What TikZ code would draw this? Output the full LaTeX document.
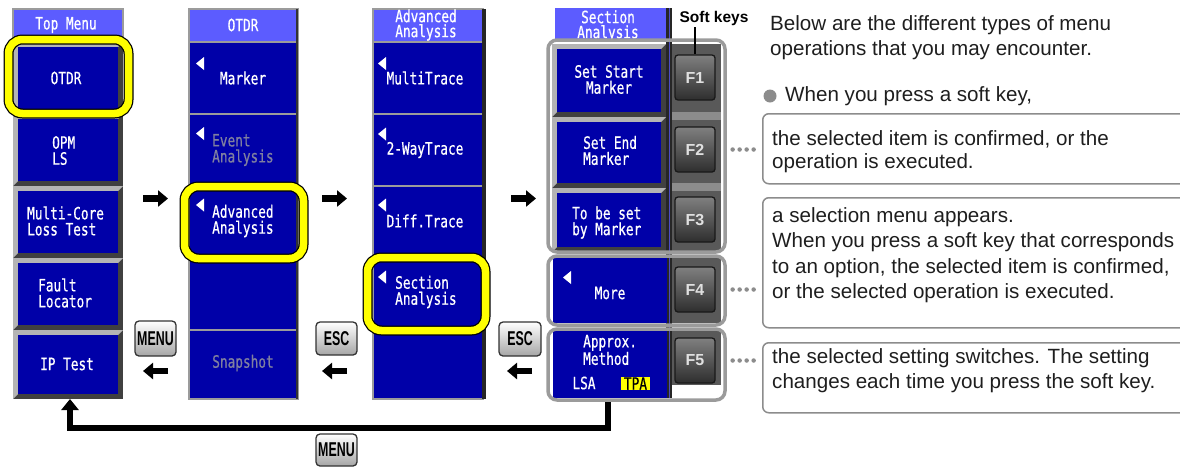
\documentclass[tikz,border=0pt]{standalone}
\usepackage{fontspec}
\setmainfont{Liberation Sans}
\newfontfamily\lcdfont[FakeStretch=0.75,FakeBold=0.6]{DejaVu Sans Mono}
\newfontfamily\keyfont[FakeStretch=0.62]{Liberation Sans}
\usetikzlibrary{arrows.meta,calc}

\definecolor{lcdblue}{RGB}{0,0,168}
\definecolor{titleblue}{RGB}{92,92,255}
\definecolor{bevlight}{RGB}{180,180,180}
\definecolor{bevdark}{RGB}{64,64,64}
\definecolor{greytxt}{RGB}{128,128,160}
\definecolor{grpgrey}{RGB}{155,155,155}
\definecolor{boxgrey}{RGB}{140,140,140}
\definecolor{hiyellow}{RGB}{255,255,0}
\definecolor{txtdark}{RGB}{30,30,30}

\newcommand{\bevbtn}[5]{%
 \fill[bevdark] (#1,#2) rectangle (#3,#4);
 \fill[bevlight] (#1,#2) -- (#3,#2) -- ({#3-#5},{#2+#5}) -- ({#1+#5},{#2+#5}) -- ({#1+#5},{#4-#5}) -- (#1,#4) -- cycle;
 \fill[lcdblue] ({#1+#5},{#2+#5}) rectangle ({#3-#5},{#4-#5});}
\newcommand{\lcdtri}[2]{\fill[white] (#1,#2) -- ({#1+8},{#2-6.5}) -- ({#1+8},{#2+6.5}) -- cycle;}
\newcommand{\hilite}[4]{%
 \draw[black,line width=10,rounded corners=14] (#1,#2) rectangle (#3,#4);
 \draw[hiyellow,line width=7.5,rounded corners=14] (#1,#2) rectangle (#3,#4);}

\tikzset{
 lcd/.style={font=\lcdfont\fontsize{17}{16}\selectfont, text=white, inner sep=0},
 lcdg/.style={lcd, text=greytxt},
 hwkey/.style={draw=black!80, line width=1.3, rounded corners=4, top color=white, bottom color=black!35,
   font=\keyfont\bfseries\fontsize{20}{20}\selectfont, inner sep=0},
 softkey/.style={draw=black!90, line width=1.3, rounded corners=3, top color=black!50, bottom color=black!82,
   font=\bfseries\fontsize{16}{16}\selectfont, text=black!12, minimum width=40, minimum height=45, inner sep=0},
 barrow/.style={line width=6.5, -{Triangle[length=10pt,width=16pt]}},
 rtext/.style={font=\fontsize{20.6}{25}\selectfont, text=txtdark, inner sep=0, anchor=base west},
 tbox/.style={draw=boxgrey, line width=1.5, rounded corners=6, inner sep=0, anchor=north west, minimum width=440},
 dotline/.style={draw=black!45, line width=4.5, line cap=round, dash pattern=on 0pt off 7pt},
 grp/.style={draw=grpgrey, line width=3.5, rounded corners=9},
}

\begin{document}
\begin{tikzpicture}[x=1pt,y=-1pt]
\useasboundingbox (0,0) rectangle (1180,467);
\clip (0,0) rectangle (1180,467);

% ---------------- Column 1: Top Menu
\fill[titleblue] (13,9) rectangle (123,42);
\draw[grpgrey,line width=1.5] (13,9) rectangle (123,42);
\bevbtn{13}{42}{123}{114}{5}
\bevbtn{13}{114}{123}{186}{5}
\bevbtn{13}{186}{123}{258}{5}
\bevbtn{13}{258}{123}{330}{5}
\bevbtn{13}{330}{123}{399}{5}
\node[lcd] (c1t) at (66,25) {Top Menu};
\node[lcd] (c1a) at (66,78) {OTDR};
\node[lcd,align=left,anchor=west] (c1b) at (52,150.5) {OPM\\LS};
\node[lcd,align=left,anchor=west] (c1c) at (27,221) {Multi-Core\\Loss Test};
\node[lcd,align=left,anchor=west] (c1d) at (38,293) {Fault\\Locator};
\node[lcd] (c1e) at (67,364) {IP Test};

% ---------------- Column 2: OTDR
\fill[titleblue] (189,9) rectangle (298,42);
\fill[lcdblue] (189,42) rectangle (298,399);
\draw[grpgrey,line width=2] (189,9) rectangle (298,399);
\foreach \yy in {42,114,186,258,330} \draw[grpgrey,line width=2] (189,\yy) -- (298,\yy);
\draw[black!80,line width=2.5] (297,9) -- (297,399);
\node[lcd] (c2t) at (243,25) {OTDR};
\lcdtri{196}{63.5}
\node[lcd] (c2a) at (243,78) {Marker};
\lcdtri{196}{133.5}
\node[lcdg,align=left,anchor=west] (c2b) at (212,150) {Event\\Analysis};
\lcdtri{196}{205}
\node[lcd,align=left,anchor=west] (c2c) at (212,221) {Advanced\\Analysis};
\node[lcdg] (c2e) at (243,363) {Snapshot};

% ---------------- Column 3: Advanced Analysis
\fill[titleblue] (373,9) rectangle (483,42);
\fill[lcdblue] (373,42) rectangle (483,399);
\draw[grpgrey,line width=2] (373,9) rectangle (483,399);
\foreach \yy in {42,114,186,258,330} \draw[grpgrey,line width=2] (373,\yy) -- (483,\yy);
\draw[black!85,line width=3.5] (484,9) -- (484,399);
\node[lcd,align=center,font=\lcdfont\fontsize{17}{15}\selectfont] (c3t) at (426,25) {Advanced\\Analysis};
\lcdtri{378}{63.5}
\node[lcd] (c3a) at (425,78) {MultiTrace};
\lcdtri{378}{134}
\node[lcd] (c3b) at (425,150) {2-WayTrace};
\lcdtri{378}{205}
\node[lcd] (c3c) at (425,221) {Diff.Trace};
\lcdtri{378}{277}
\node[lcd,align=left,anchor=west] (c3d) at (395,292) {Section\\Analysis};

% ---------------- Column 4: Section Analysis
\fill[titleblue] (555,8) rectangle (666,42);
\node[lcd,align=center,font=\lcdfont\fontsize{17}{15}\selectfont] (c4t) at (608,26) {Section\\Analysis};
\fill[black!85] (666,8) rectangle (672,398);
\fill[lcdblue!70!white] (668.5,8) rectangle (669.5,398);
\bevbtn{552}{44}{666}{117}{5}
\bevbtn{552}{117}{666}{188}{5}
\bevbtn{552}{188}{666}{252}{5}
\fill[lcdblue] (553,258) rectangle (667,323);
\fill[lcdblue] (553,330) rectangle (667,398);
\fill[black!65] (672,44) rectangle (721,251);
\fill[black!65] (672,258) rectangle (721,323);
\fill[black!65] (672,330) rectangle (721,385);
\foreach \yy in {112,183} \fill[black!45] (672,\yy) rectangle (721,{\yy+8});
\node[lcd,align=center] (c4a) at (609,79.5) {Set Start\\Marker};
\node[lcd,align=left,anchor=west] (c4b) at (583,150.5) {Set End\\Marker};
\node[lcd,align=left,anchor=west] (c4c) at (572,222.5) {To be set\\by Marker};
\lcdtri{563}{277.5}
\node[lcd] (c4d) at (610,293) {More};
\node[lcd,align=left,anchor=west] (c4e) at (583,350) {Approx.\\Method};
\node[lcd] (c4f) at (584,383) {LSA};
\node[lcd,fill=hiyellow,text=black,minimum width=29,minimum height=13] (c4g) at (635.5,383.5) {TPA};

\node[softkey] (F1) at (695,77.5) {F1};
\node[softkey] (F2) at (695,149.5) {F2};
\node[softkey] (F3) at (695,219.5) {F3};
\node[softkey] (F4) at (695,289.5) {F4};
\node[softkey] (F5) at (695,360.5) {F5};

% return path (drawn under the groups)
\coordinate (ret0) at (608,400);
\coordinate (retc) at (70,428);
\coordinate (ipbot) at (70,399);
\draw[line width=5.5,-{Triangle[length=11pt,width=17pt]}] (ret0) |- (retc) -- (ipbot);

\draw[grp] (548,40) rectangle (725,252);
\draw[grp] (548,256) rectangle (725,325);
\draw[grp] (548,329) rectangle (725,400);

\node[font=\bfseries\fontsize{15.5}{16}\selectfont,inner sep=0] (softlbl) at (714,18) {Soft keys};
\draw[line width=1.3] (F1.north |- 0,27) -- (F1.north);

% ---------------- Highlights
\hilite{8.5}{39.5}{128.5}{113.5}
\hilite{184.5}{186.5}{303.5}{258.5}
\hilite{367.5}{257.5}{485.5}{330.5}

% ---------------- Arrows and keys
\coordinate (ra1s) at (143,198.5); \coordinate (ra1e) at (168,198.5);
\coordinate (ra2s) at (322,198.5); \coordinate (ra2e) at (347,198.5);
\coordinate (ra3s) at (511,198.5); \coordinate (ra3e) at (536,198.5);
\draw[barrow] (ra1s) -- (ra1e);
\draw[barrow] (ra2s) -- (ra2e);
\draw[barrow] (ra3s) -- (ra3e);
\coordinate (la1s) at (168,371); \coordinate (la1e) at (143,371);
\coordinate (la2s) at (347,371); \coordinate (la2e) at (322,371);
\coordinate (la3s) at (532,371); \coordinate (la3e) at (507,371);
\draw[barrow] (la1s) -- (la1e);
\draw[barrow] (la2s) -- (la2e);
\draw[barrow] (la3s) -- (la3e);

\node[hwkey,minimum width=41,minimum height=35] (menu1) at (155.5,338.5) {MENU};
\node[hwkey,minimum width=41,minimum height=33] (esc1) at (336.5,338.5) {ESC};
\node[hwkey,minimum width=42,minimum height=34] (esc2) at (520,339) {ESC};
\node[hwkey,minimum width=41,minimum height=32] (menu2) at (336.5,450) {MENU};

% ---------------- Right-hand explanations
\node[rtext] (intro1) at (770,30) {Below are the different types of menu};
\node[rtext] (intro2) at (770,55) {operations that you may encounter.};
\node[circle,fill=black!45,minimum size=13,inner sep=0] (bullet) at (770,96) {};
\node[rtext] (when) at (785,101) {When you press a soft key,};

\node[tbox,minimum height=70] (box1) at (762,113) {};
\node[tbox,minimum height=130] (box2) at (762,197) {};
\node[tbox,minimum height=70] (box3) at (762,342) {};

\node[rtext] (b1a) at (772,145) {the selected item is confirmed, or the};
\node[rtext] (b1b) at (772,168) {operation is executed.};
\node[rtext] (b2a) at (772,222) {a selection menu appears.};
\node[rtext] (b2b) at (772,247) {When you press a soft key that corresponds};
\node[rtext] (b2c) at (772,273) {to an option, the selected item is confirmed,};
\node[rtext] (b2d) at (772,298) {or the selected operation is executed.};
\node[rtext] (b3a) at (772,363) {the selected setting switches. The setting};
\node[rtext] (b3b) at (772,388) {changes each time you press the soft key.};

\draw[dotline] ([xshift=17]F2.east) -- ([xshift=-4]F2.east -| box1.west);
\draw[dotline] ([xshift=17]F4.east) -- ([xshift=-4]F4.east -| box2.west);
\draw[dotline] ([xshift=17]F5.east) -- ([xshift=-4]F5.east -| box3.west);
\end{tikzpicture}
\end{document}
